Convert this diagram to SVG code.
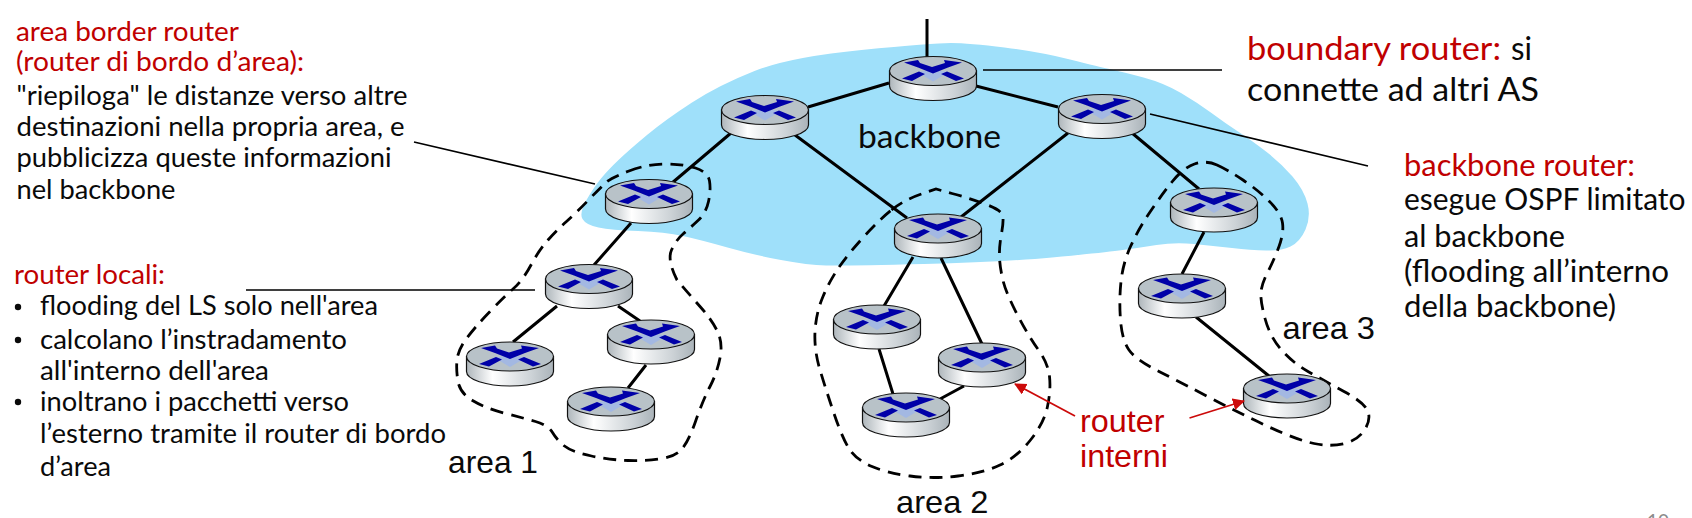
<svg xmlns="http://www.w3.org/2000/svg" xmlns:xlink="http://www.w3.org/1999/xlink" width="1692" height="518" viewBox="0 0 1692 518">
<style>
.cal{font-family:"Lato","Carlito","Liberation Sans",sans-serif;fill:#0a0a0a}
.ar{font-family:"Liberation Sans",Arial,sans-serif;font-size:32px;fill:#0a0a0a}
.red{fill:#c00000}
.s25{font-size:27px}
.s29{font-size:30px}
.s31{font-size:33px}
.link{stroke:#000;stroke-width:3;fill:none}
.lead{stroke:#000;stroke-width:1.7;fill:none}
.area{stroke:#000;stroke-width:2.8;stroke-dasharray:13 8;fill:none}
.arrow{stroke:#cc0a0a;stroke-width:1.8;fill:none;marker-end:url(#ah)}
</style>
<defs>
<linearGradient id="side" x1="0" x2="1" y1="0" y2="0">
<stop offset="0" stop-color="#aeb6bb"/><stop offset="0.3" stop-color="#ffffff"/><stop offset="0.75" stop-color="#ccd2d6"/><stop offset="1" stop-color="#aab3b9"/>
</linearGradient>
<marker id="ah" markerUnits="userSpaceOnUse" markerWidth="14" markerHeight="14" refX="11" refY="6" orient="auto"><path d="M0,0 L12,6 L0,12 Z" fill="#cc0a0a"/></marker>
<g id="router">
<path d="M-43.5,0 V15 A43.5,14.5 0 0 0 43.5,15 V0 Z" fill="url(#side)" stroke="#111" stroke-width="1.2"/>
<ellipse cx="0" cy="0" rx="43.5" ry="14.5" fill="#b8c2c8" stroke="#111" stroke-width="1.2"/>
<path d="M-16,1 L0,-1 L16,1 L0,10.500 Z" fill="#a3b8e2"/>
<path d="M-29,-8.5 L-15,-11 L-13,-8 L-1,-4 L12,-8 L11,-11 L29,-8.5 L15,-3.5 L0,2.5 L-15,-3.5 Z M-31,7.5 L-14,0.5 L-8,3 L-21,10 Z M8,3 L14,0.5 L31,7.5 L23,10 Z" fill="#0000a8"/>
</g>
</defs>
<rect width="1692" height="518" fill="#ffffff"/>
<path id="backbone-cloud" fill="#9fe0fa" d="M951,43 Q969,43 1004.5,47.5 Q1040,52 1070,59.5 Q1100,67 1111.5,69.5 Q1123,72 1143.5,77.5 Q1164,83 1181,93 Q1198,103 1211.5,113 Q1225,123 1238,131.5 Q1251,140 1266,151.5 Q1281,163 1292.5,176.5 Q1304,190 1307.5,203.5 Q1311,217 1305.5,229.5 Q1300,242 1290.5,246.5 Q1281,251 1266,250.5 Q1251,250 1232,248 Q1213,246 1194,244 Q1175,242 1156.5,245 Q1138,248 1119,250.5 Q1100,253 1052,257.5 Q1004,262 924,264 Q844,266 826,265.5 Q808,265 781,260 Q754,255 727.5,247.5 Q701,240 683,236 Q665,232 638,231 Q611,230 598.5,227.5 Q586,225 582.5,219 Q579,213 586.5,200 Q594,187 601,178.5 Q608,170 618.5,160 Q629,150 647,135 Q665,120 692,102.5 Q719,85 754.5,71 Q790,57 861.5,50 Q933,43 951,43 Z"/>
<g id="connectors">
<path class="link" d="M927,19 V57 M889,83 L808,107 M976,86 L1058,107 M731,133 L672,183 M795,135 L907,218 M1068,133 L961,217 M1132,133 L1199,189 M631,223 L594,265 M557,306 L513,342 M618,306 L640,321 M646,365 L628,388 M913,257 L884,306 M941,258 L982,344 M879,349 L893,394 M940,399 L964,386 M1204,232 L1182,274 M1196,317 L1269,376"/>
<path class="area" d="M629,171 Q647,164 665,164 Q683,164 695.5,168 Q708,172 709.5,181 Q711,190 708.5,201.5 Q706,213 698,220.5 Q690,228 683,234 Q676,240 671.5,250 Q667,260 677,280 Q688,293 700,306.5 Q712,320 717.5,331.5 Q723,343 720,358 Q717,373 710,386.5 Q703,400 695.5,421.5 Q688,443 681,450 Q674,457 659.5,459 Q645,461 628,460.5 Q611,460 591.5,456 Q572,452 564.5,446 Q557,440 552.5,432.5 Q548,425 535.5,421.5 Q523,418 504,413 Q485,408 472.5,400.5 Q460,393 458,381.5 Q456,370 457,360 Q458,350 466.5,338.5 Q475,327 489.5,312 Q504,297 513.5,288.5 Q523,280 531,265 Q539,250 548,240 Q557,230 566.5,221.5 Q576,213 588.5,200 Q601,187 606,182.5 Q611,178 629,171 Z"/>
<path class="area" d="M891.5,210 Q904,200 920,194.5 L936,189 L952,193.5 Q969,198 985,204 Q1001,210 1002.5,215 Q1004,220 1001.5,233.5 Q999,247 999.5,257.5 Q1000,268 1003,280.5 Q1006,293 1017.5,315 Q1029,337 1038.5,350 Q1048,363 1049.5,376.5 Q1051,390 1047.5,406.5 Q1044,423 1030.5,440 Q1017,457 1000,465 Q983,473 958,476 Q933,479 910,476 Q887,473 872,466.5 Q857,460 850,450 Q843,440 834.5,415 Q826,390 820,370 Q814,350 815,331.5 Q816,313 823,296.5 Q830,280 839.5,266.5 Q849,253 864,236.5 Q879,220 891.5,210 Z"/>
<path class="area" d="M1217,165 Q1228,170 1243,180 Q1258,190 1269.5,201.5 Q1281,213 1282.5,223 Q1284,233 1279,246.5 Q1274,260 1268,271.5 Q1262,283 1261,291.5 Q1260,300 1265,318.5 Q1270,337 1281.5,350 Q1293,363 1308,371.5 Q1323,380 1344,391.5 Q1365,403 1368,411.5 Q1371,420 1364.5,430 Q1358,440 1344.5,443.5 Q1331,447 1314,443.5 Q1297,440 1268,426.5 Q1239,413 1210.5,398 Q1182,383 1159,371.5 Q1136,360 1129,350 Q1122,340 1120.5,320 Q1119,300 1121,281.5 Q1123,263 1130.5,246.5 Q1138,230 1149,213.5 Q1160,197 1171.5,182.5 Q1183,168 1194.5,164 Q1206,160 1217,165 Z"/>
</g>
<g id="r-boundary" transform="translate(933,71)"><use href="#router"/></g>
<g id="r-backbone-left" transform="translate(765,110)"><use href="#router"/></g>
<g id="r-backbone-right" transform="translate(1102,109)"><use href="#router"/></g>
<g id="r-abr-1" transform="translate(649,194)"><use href="#router"/></g>
<g id="r-abr-2" transform="translate(938,228.500)"><use href="#router"/></g>
<g id="r-abr-3" transform="translate(1214,202.500)"><use href="#router"/></g>
<g id="r-a1-top" transform="translate(589,279)"><use href="#router"/></g>
<g id="r-a1-left" transform="translate(510,356.500)"><use href="#router"/></g>
<g id="r-a1-right" transform="translate(651,334.500)"><use href="#router"/></g>
<g id="r-a1-bottom" transform="translate(611,401.500)"><use href="#router"/></g>
<g id="r-a2-left" transform="translate(877,319.500)"><use href="#router"/></g>
<g id="r-a2-right" transform="translate(982,357.500)"><use href="#router"/></g>
<g id="r-a2-bottom" transform="translate(906,407.500)"><use href="#router"/></g>
<g id="r-a3-mid" transform="translate(1182,288.500)"><use href="#router"/></g>
<g id="r-a3-bottom" transform="translate(1287,388.500)"><use href="#router"/></g>
<g id="leaders">
<path class="lead" d="M983,70 H1222 M1150,114 L1368,166 M414,142 L595,184 M246,290 H535"/>
<path class="arrow" d="M1075,416 L1015,384"/>
<path class="arrow" d="M1189.500,418 L1244,401"/>
</g>
<g id="labels">
<text class="cal red s25" x="16" y="41" textLength="223" lengthAdjust="spacingAndGlyphs">area border router</text>
<text class="cal red s25" x="16" y="71" textLength="288" lengthAdjust="spacingAndGlyphs">(router di bordo d’area):</text>
<text class="cal s25" x="16.500" y="105" textLength="391" lengthAdjust="spacingAndGlyphs">"riepiloga" le distanze verso altre</text>
<text class="cal s25" x="16.500" y="136" textLength="388" lengthAdjust="spacingAndGlyphs">destinazioni nella propria area, e</text>
<text class="cal s25" x="16.500" y="167" textLength="375" lengthAdjust="spacingAndGlyphs">pubblicizza queste informazioni</text>
<text class="cal s25" x="16.500" y="199" textLength="159" lengthAdjust="spacingAndGlyphs">nel backbone</text>
<text class="cal red s25" x="14" y="284" textLength="151" lengthAdjust="spacingAndGlyphs">router locali:</text>
<circle cx="18" cy="307" r="3.200" fill="#0a0a0a"/>
<circle cx="18" cy="340" r="3.200" fill="#0a0a0a"/>
<circle cx="18" cy="402" r="3.200" fill="#0a0a0a"/>
<text class="cal s25" x="40" y="315" textLength="338" lengthAdjust="spacingAndGlyphs">flooding del LS solo nell'area</text>
<text class="cal s25" x="40" y="349" textLength="307" lengthAdjust="spacingAndGlyphs">calcolano l’instradamento</text>
<text class="cal s25" x="40" y="380" textLength="229" lengthAdjust="spacingAndGlyphs">all'interno dell'area</text>
<text class="cal s25" x="40" y="411" textLength="309" lengthAdjust="spacingAndGlyphs">inoltrano i pacchetti verso</text>
<text class="cal s25" x="40" y="443" textLength="406" lengthAdjust="spacingAndGlyphs">l’esterno tramite il router di bordo</text>
<text class="cal s25" x="40" y="476" textLength="71" lengthAdjust="spacingAndGlyphs">d’area</text>
<text class="ar" x="448" y="473" textLength="90" lengthAdjust="spacingAndGlyphs">area 1</text>
<text class="ar" x="896" y="513" textLength="92.500" lengthAdjust="spacingAndGlyphs">area 2</text>
<text class="ar" x="1282.500" y="339" textLength="92.500" lengthAdjust="spacingAndGlyphs">area 3</text>
<text class="ar red" x="1080" y="432" textLength="84.500" lengthAdjust="spacingAndGlyphs">router</text>
<text class="ar red" x="1080" y="467" textLength="88" lengthAdjust="spacingAndGlyphs">interni</text>
<text class="cal s31" x="858" y="148" textLength="143" lengthAdjust="spacingAndGlyphs">backbone</text>
<text class="cal red s31" x="1247" y="60" textLength="254" lengthAdjust="spacingAndGlyphs">boundary router:</text>
<text class="cal s31" x="1511" y="60" textLength="21" lengthAdjust="spacingAndGlyphs">si</text>
<text class="cal s31" x="1247" y="100.500" textLength="292" lengthAdjust="spacingAndGlyphs">connette ad altri AS</text>
<text class="cal red s29" x="1404" y="176" textLength="231" lengthAdjust="spacingAndGlyphs">backbone router:</text>
<text class="cal s29" x="1404" y="210" textLength="281.500" lengthAdjust="spacingAndGlyphs">esegue OSPF limitato</text>
<text class="cal s29" x="1404" y="247" textLength="161" lengthAdjust="spacingAndGlyphs">al backbone</text>
<text class="cal s29" x="1404" y="282" textLength="265" lengthAdjust="spacingAndGlyphs">(flooding all’interno</text>
<text class="cal s29" x="1404" y="317" textLength="212" lengthAdjust="spacingAndGlyphs">della backbone)</text>
<text font-family="Lato, sans-serif" font-size="19" fill="#8b8b8b" x="1647" y="528">10</text>
</g>
</svg>
